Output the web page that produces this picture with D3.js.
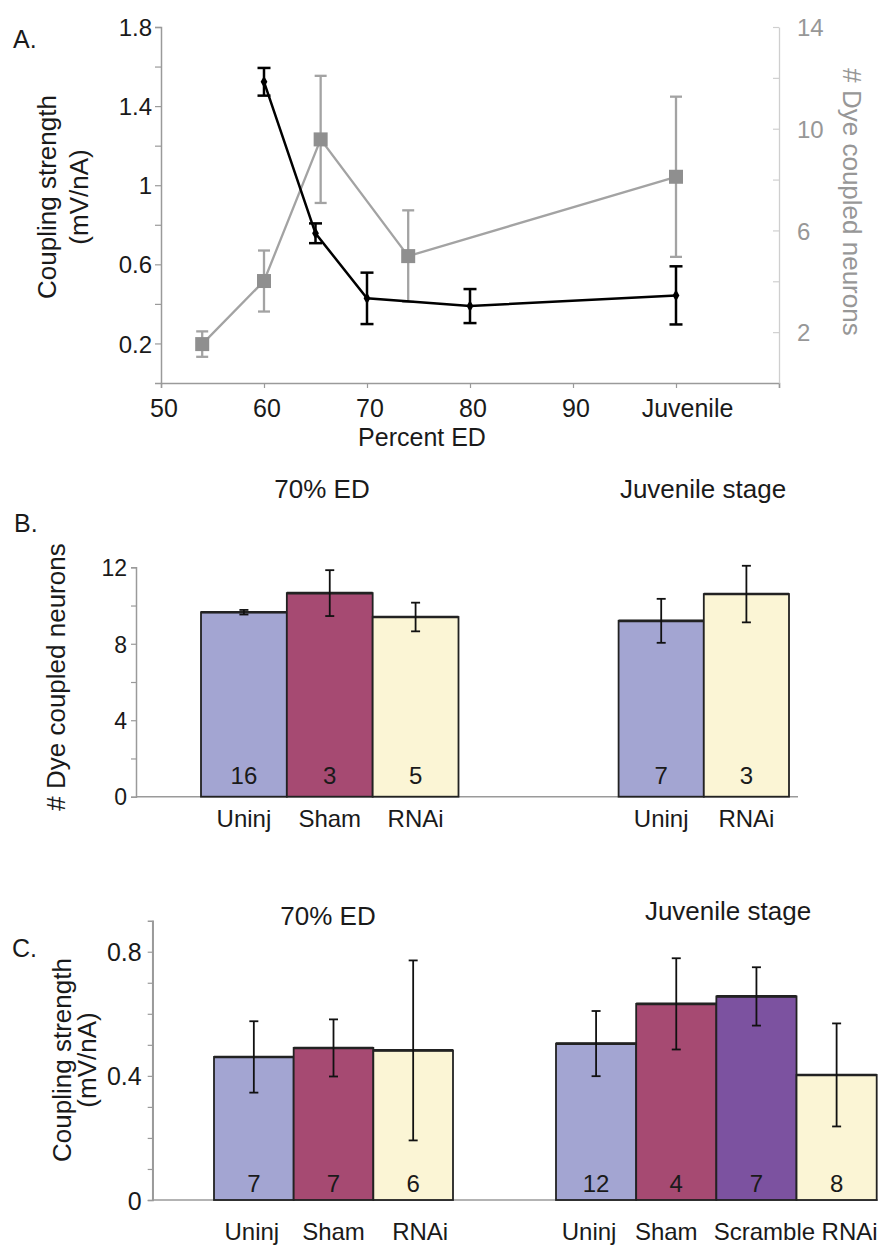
<!DOCTYPE html>
<html><head><meta charset="utf-8">
<script src="https://cdn.jsdelivr.net/npm/d3@7/dist/d3.min.js"></script>
<style>
html,body{margin:0;padding:0;background:#fff;}
svg{display:block;font-family:"Liberation Sans",Arial,Helvetica,sans-serif;}
</style></head>
<body>
<svg id="chart" width="883" height="1251"></svg>
<script>
// ---------- DATA ----------
// Panel A: coupling strength (left axis) vs percent ED
const edCoupling = [60, 65, 70, 80, 100];
const couplingA = [1.523, 0.757, 0.428, 0.389, 0.443];
const couplingErrA = [0.07, 0.05, 0.13, 0.086, 0.147];
// Panel A: # dye coupled neurons (right axis)
const edDye = [54, 60, 65.5, 74, 100];
const dyeA = [1.53, 4.01, 9.58, 4.99, 8.11];
const dyeErrA = [0.5, 1.2, 2.5, 1.8, 3.15];
const xTicksA = [50, 60, 70, 80, 90, 100, 110];
const xTickLabelsA = ["50", "60", "70", "80", "90", "Juvenile", ""];
const leftTicksA = [0.2, 0.4, 0.6, 0.8, 1.0, 1.2, 1.4, 1.6, 1.8];
const leftLabelsA = [0.2, 0.6, 1.0, 1.4, 1.8];
const rightTicksA = [2, 4, 6, 8, 10, 12, 14];
const rightLabelsA = [2, 6, 10, 14];

// Panel B: # dye coupled neurons
const groupsB = ["70% ED", "Juvenile stage"];
const catsB70 = ["Uninj", "Sham", "RNAi"];
const dyeB70 = [9.65, 10.65, 9.4];
const dyeErrB70 = [0.12, 1.2, 0.75];
const nB70 = [16, 3, 5];
const catsBJ = ["Uninj", "RNAi"];
const dyeBJ = [9.2, 10.6];
const dyeErrBJ = [1.15, 1.48];
const nBJ = [7, 3];
const yTicksB = [0, 2, 4, 6, 8, 10, 12];
const yLabelsB = [0, 4, 8, 12];

// Panel C: coupling strength
const groupsC = ["70% ED", "Juvenile stage"];
const catsC70 = ["Uninj", "Sham", "RNAi"];
const couplingC70 = [0.461, 0.49, 0.482];
const couplingErrC70 = [0.115, 0.092, 0.29];
const nC70 = [7, 7, 6];
const catsCJ = ["Uninj", "Sham", "Scramble", "RNAi"];
const couplingCJ = [0.504, 0.632, 0.656, 0.403];
const couplingErrCJ = [0.105, 0.147, 0.094, 0.166];
const nCJ = [12, 4, 7, 8];
const yTicksC = [0, 0.1, 0.2, 0.3, 0.4, 0.5, 0.6, 0.7, 0.8];
const yLabelsC = [0, 0.4, 0.8];

// ---------- STYLE / LAYOUT ----------
const catColor = {Uninj: "#a3a5d2", Sham: "#a64a72", RNAi: "#fbf5d5", Scramble: "#7c52a0"};
const axisGray = "#9a9a9a";
const textDark = "#1a1a1a";
const seriesGray = "#a3a3a3";
const squareGray = "#8f8f8f";
const labelShiftC70 = [-2, 0, 7];
const labelShiftCJ = [-7, -10, 8, 13];

const svg = d3.select("#chart");

function txt(g, x, y, s, opts = {}) {
  const t = g.append("text").attr("x", x).attr("y", y).text(s)
    .attr("font-size", opts.size || 24)
    .attr("fill", opts.fill || textDark)
    .attr("text-anchor", opts.anchor || "start");
  if (opts.rotate) t.attr("transform", `rotate(${opts.rotate},${x},${y})`);
  return t;
}

// ================= PANEL A =================
{
  const g = svg.append("g");
  const x = d3.scaleLinear().domain([50, 110]).range([161, 779]);
  const yL = d3.scaleLinear().domain([0, 1.8]).range([383, 27]);
  const yR = d3.scaleLinear().domain([0, 14]).range([383, 27]);

  // x axis
  const xa = g.append("g").attr("transform", "translate(0,383)")
    .call(d3.axisBottom(x).tickValues(xTicksA)
      .tickFormat((d, i) => xTickLabelsA[i]).tickSizeOuter(0).tickSize(5).tickPadding(11));
  xa.selectAll("text").attr("font-size", 25).attr("fill", textDark)
    .attr("dx", d => d === 100 ? 11 : 2.5);
  // left axis
  const la = g.append("g").attr("transform", "translate(161,0)")
    .call(d3.axisLeft(yL).tickValues(leftTicksA)
      .tickFormat(d => leftLabelsA.some(v => Math.abs(v - d) < 1e-9) ? d3.format("~g")(d) : "")
      .tickSizeOuter(0).tickSize(6).tickPadding(3));
  la.selectAll("text").attr("font-size", 24).attr("fill", textDark).attr("dy", "0.36em");
  // right axis (inward ticks)
  const ra = g.append("g").attr("transform", "translate(779,0)")
    .call(d3.axisRight(yR).tickValues(rightTicksA)
      .tickFormat(d => rightLabelsA.includes(d) ? d : "")
      .tickSizeOuter(0).tickSizeInner(-6).tickPadding(18));
  ra.selectAll("text").attr("font-size", 24).attr("fill", "#979797").attr("dy", "0.36em");
  [xa, la].forEach(a => { a.select(".domain").attr("stroke", axisGray).attr("stroke-width", 1.5); a.selectAll(".tick line").attr("stroke", axisGray).attr("stroke-width", 1.2); });
  ra.select(".domain").attr("stroke", "#cfcfcf").attr("stroke-width", 1.3);
  ra.selectAll(".tick line").attr("stroke", "#cfcfcf").attr("stroke-width", 1.2);
  xa.attr("font-family", null); la.attr("font-family", null); ra.attr("font-family", null);

  // gray series (right axis)
  const dyePts = edDye.map((e, i) => ({x: e, v: dyeA[i], err: dyeErrA[i]}));
  g.append("path").datum(dyePts)
    .attr("d", d3.line().x(d => x(d.x)).y(d => yR(d.v)))
    .attr("fill", "none").attr("stroke", seriesGray).attr("stroke-width", 2.3);
  const ge = g.append("g").attr("stroke", seriesGray).attr("stroke-width", 2.3);
  dyePts.forEach(d => {
    ge.append("line").attr("x1", x(d.x)).attr("x2", x(d.x)).attr("y1", yR(d.v - d.err)).attr("y2", yR(d.v + d.err));
    [d.v - d.err, d.v + d.err].forEach(v => ge.append("line").attr("x1", x(d.x) - 6).attr("x2", x(d.x) + 6).attr("y1", yR(v)).attr("y2", yR(v)));
  });
  g.append("g").selectAll("rect").data(dyePts).join("rect")
    .attr("x", d => x(d.x) - 7).attr("y", d => yR(d.v) - 7).attr("width", 14).attr("height", 14)
    .attr("fill", squareGray);

  // black series (left axis)
  const cPts = edCoupling.map((e, i) => ({x: e, v: couplingA[i], err: couplingErrA[i]}));
  g.append("path").datum(cPts)
    .attr("d", d3.line().x(d => x(d.x)).y(d => yL(d.v)))
    .attr("fill", "none").attr("stroke", "#000").attr("stroke-width", 2.5);
  const be = g.append("g").attr("stroke", "#000").attr("stroke-width", 2.5);
  cPts.forEach(d => {
    be.append("line").attr("x1", x(d.x)).attr("x2", x(d.x)).attr("y1", yL(d.v - d.err)).attr("y2", yL(d.v + d.err));
    [d.v - d.err, d.v + d.err].forEach(v => be.append("line").attr("x1", x(d.x) - 6.5).attr("x2", x(d.x) + 6.5).attr("y1", yL(v)).attr("y2", yL(v)));
  });
  g.append("g").selectAll("path.m").data(cPts).join("path")
    .attr("transform", d => `translate(${x(d.x)},${yL(d.v)})`)
    .attr("d", d3.symbol(d3.symbolDiamond, 40)).attr("fill", "#000");

  // labels
  txt(g, 13, 48, "A.", {size: 25});
  txt(g, 56, 197, "Coupling strength", {size: 26, anchor: "middle", rotate: -90});
  txt(g, 88, 197, "(mV/nA)", {size: 26, anchor: "middle", rotate: -90});
  txt(g, 843, 202, "# Dye coupled neurons", {size: 26, anchor: "middle", rotate: 90, fill: "#979797"});
  txt(g, 422, 446, "Percent ED", {size: 25, anchor: "middle"});
}

// ============ bar panel helper ============
function barGroup(g, y, cats, vals, errs, ns, range, nBaseline, labelBaseline, shifts, capW) {
  const xb = d3.scaleBand().domain(cats).range(range).padding(0);
  const data = cats.map((c, i) => ({c, v: vals[i], e: errs[i], n: ns[i], s: shifts ? shifts[i] : 0}));
  g.append("g").selectAll("rect").data(data).join("rect")
    .attr("x", d => xb(d.c)).attr("y", d => y(d.v))
    .attr("width", xb.bandwidth()).attr("height", d => y(0) - y(d.v))
    .attr("fill", d => catColor[d.c]).attr("stroke", "#222").attr("stroke-width", 1.8);
  // top edge emphasis
  g.append("g").selectAll("line").data(data).join("line")
    .attr("x1", d => xb(d.c)).attr("x2", d => xb(d.c) + xb.bandwidth())
    .attr("y1", d => y(d.v)).attr("y2", d => y(d.v))
    .attr("stroke", "#222").attr("stroke-width", 2.6);
  const eg = g.append("g").attr("stroke", "#111").attr("stroke-width", 1.8);
  data.forEach(d => {
    const cx = xb(d.c) + xb.bandwidth() / 2;
    eg.append("line").attr("x1", cx).attr("x2", cx).attr("y1", y(d.v - d.e)).attr("y2", y(d.v + d.e));
    [d.v - d.e, d.v + d.e].forEach(v => eg.append("line").attr("x1", cx - capW).attr("x2", cx + capW).attr("y1", y(v)).attr("y2", y(v)));
  });
  data.forEach(d => {
    const cx = xb(d.c) + xb.bandwidth() / 2;
    txt(g, cx, nBaseline, d.n, {size: 24, anchor: "middle"});
    txt(g, cx + d.s, labelBaseline, d.c, {size: 24, anchor: "middle"});
  });
  return xb;
}

// ================= PANEL B =================
{
  const g = svg.append("g");
  const y = d3.scaleLinear().domain([0, 12]).range([796.7, 567.3]);
  const ax = g.append("g").attr("transform", "translate(136,0)")
    .call(d3.axisLeft(y).tickValues(yTicksB).tickFormat(d => yLabelsB.includes(d) ? d : "")
      .tickSizeOuter(0).tickSize(5).tickPadding(4));
  ax.attr("font-family", null);
  ax.selectAll("text").attr("font-size", 23).attr("fill", textDark).attr("dy", "0.36em");
  ax.select(".domain").attr("stroke", axisGray).attr("stroke-width", 1.5);
  ax.selectAll(".tick line").attr("stroke", axisGray).attr("stroke-width", 1.2);
  // baseline
  g.append("line").attr("x1", 136).attr("x2", 798).attr("y1", y(0)).attr("y2", y(0))
    .attr("stroke", axisGray).attr("stroke-width", 1.5);
  barGroup(g, y, catsB70, dyeB70, dyeErrB70, nB70, [201, 458.5], 784, 827, null, 4.5);
  barGroup(g, y, catsBJ, dyeBJ, dyeErrBJ, nBJ, [618.6, 789], 784, 827, null, 4.5);
  txt(g, 322, 498, groupsB[0], {size: 26, anchor: "middle"});
  txt(g, 703, 498, groupsB[1], {size: 26, anchor: "middle"});
  txt(g, 14, 532, "B.", {size: 25});
  txt(g, 64.5, 677, "# Dye coupled neurons", {size: 26, anchor: "middle", rotate: -90});
}

// ================= PANEL C =================
{
  const g = svg.append("g");
  const y = d3.scaleLinear().domain([0, 0.9]).range([1200, 920.7]);
  const ax = g.append("g").attr("transform", "translate(152.7,0)")
    .call(d3.axisLeft(y).tickValues(yTicksC)
      .tickFormat(d => yLabelsC.some(v => Math.abs(v - d) < 1e-9) ? d3.format("~g")(d) : "")
      .tickSizeOuter(0).tickSize(5).tickPadding(6));
  ax.attr("font-family", null);
  ax.selectAll("text").attr("font-size", 25).attr("fill", textDark).attr("dy", "0.36em");
  ax.select(".domain").attr("stroke", axisGray).attr("stroke-width", 1.5);
  ax.selectAll(".tick line").attr("stroke", axisGray).attr("stroke-width", 1.2);
  // extend axis line to top of domain
  g.append("line").attr("x1", 152.7).attr("x2", 152.7).attr("y1", y(0.9)).attr("y2", y(0))
    .attr("stroke", axisGray).attr("stroke-width", 1.5);
  g.append("line").attr("x1", 152.7).attr("x2", 878).attr("y1", y(0)).attr("y2", y(0))
    .attr("stroke", axisGray).attr("stroke-width", 1.5);
  barGroup(g, y, catsC70, couplingC70, couplingErrC70, nC70, [214, 453], 1191.7, 1240, labelShiftC70, 4.5);
  barGroup(g, y, catsCJ, couplingCJ, couplingErrCJ, nCJ, [556, 876.7], 1191.7, 1240, labelShiftCJ, 4.5);
  txt(g, 328, 925, groupsC[0], {size: 26, anchor: "middle"});
  txt(g, 728, 920, groupsC[1], {size: 26, anchor: "middle"});
  txt(g, 12, 957, "C.", {size: 25});
  txt(g, 71, 1060, "Coupling strength", {size: 26, anchor: "middle", rotate: -90});
  txt(g, 96, 1060, "(mV/nA)", {size: 26, anchor: "middle", rotate: -90});
}
</script>
</body></html>
